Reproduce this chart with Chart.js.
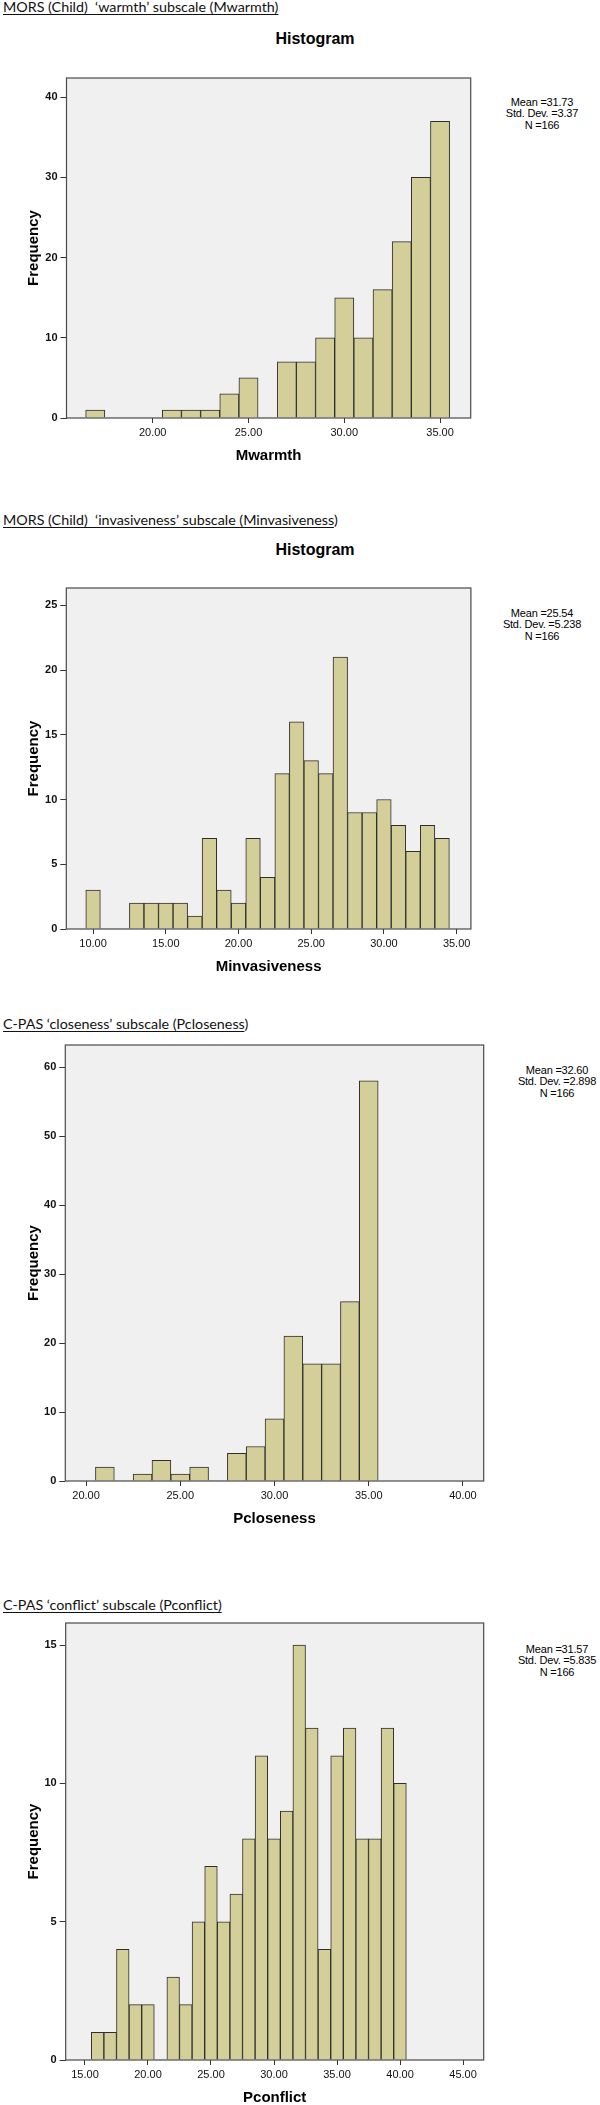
<!DOCTYPE html>
<html>
<head>
<meta charset="utf-8">
<script src="https://cdn.jsdelivr.net/npm/chart.js@4.4.1/dist/chart.umd.min.js"></script>
<style>
  body { margin: 0; background: #fff; }
  #page { position: relative; width: 600px; height: 2105px; overflow: hidden; }
  .heading { position: absolute; left: 3px; font-family: Lato, 'Open Sans', sans-serif; font-size: 14.3px; line-height: 16px; color: #111; white-space: pre; }
  .heading .u { text-decoration: underline; text-underline-offset: 2px; }
  .histTitle { position: absolute; left: 215px; width: 200px; text-align: center; font-family: 'Liberation Sans', Arial, sans-serif; font-weight: bold; font-size: 16px; line-height: 20px; color: #000; }
  .stats { position: absolute; width: 110px; text-align: center; font-family: 'Liberation Sans', Arial, sans-serif; font-size: 11px; line-height: 11.3px; color: #000; letter-spacing: -0.2px; }
  canvas { position: absolute; left: 0; }
</style>
</head>
<body>
<div id="page">
  <div class="heading" style="top:-1px"><span class="u">MORS (Child)  ‘warmth’ subscale (Mwarmth)</span></div>
  <div class="histTitle" style="top:29px">Histogram</div>
  <div class="stats" id="stats1" style="left:487px; top:97px"></div>
  <canvas id="chart1"></canvas>

  <div class="heading" style="top:512px"><span class="u">MORS (Child)  ‘invasiveness’ subscale (Minvasiveness</span>)</div>
  <div class="histTitle" style="top:540px">Histogram</div>
  <div class="stats" id="stats2" style="left:487px; top:608px"></div>
  <canvas id="chart2"></canvas>

  <div class="heading" style="top:1016px"><span class="u">C-PAS ‘closeness’ subscale (Pcloseness</span>)</div>
  <div class="stats" id="stats3" style="left:502px; top:1065px"></div>
  <canvas id="chart3"></canvas>

  <div class="heading" style="top:1597px"><span class="u">C-PAS ‘conflict’ subscale (Pconflict)</span></div>
  <div class="stats" id="stats4" style="left:502px; top:1644px"></div>
  <canvas id="chart4"></canvas>
</div>

<script>
// MORS warmth
const warmthBins = [17, 18, 19, 20, 21, 22, 23, 24, 25, 26, 27, 28, 29, 30, 31, 32, 33, 34, 35];
const warmthCounts = [1, 0, 0, 0, 1, 1, 1, 3, 5, 0, 7, 7, 10, 15, 10, 16, 22, 30, 37];
const warmthXTicks = [20, 25, 30, 35];
const warmthYTicks = [0, 10, 20, 30, 40];
const warmthStats = ['Mean =31.73', 'Std. Dev. =3.37', 'N =166'];

// MORS invasiveness
const invasBins = [10, 11, 12, 13, 14, 15, 16, 17, 18, 19, 20, 21, 22, 23, 24, 25, 26, 27, 28, 29, 30, 31, 32, 33, 34];
const invasCounts = [3, 0, 0, 2, 2, 2, 2, 1, 7, 3, 2, 7, 4, 12, 16, 13, 12, 21, 9, 9, 10, 8, 6, 8, 7];
const invasXTicks = [10, 15, 20, 25, 30, 35];
const invasYTicks = [0, 5, 10, 15, 20, 25];
const invasStats = ['Mean =25.54', 'Std. Dev. =5.238', 'N =166'];

// C-PAS closeness
const closeBins = [21, 22, 23, 24, 25, 26, 27, 28, 29, 30, 31, 32, 33, 34, 35];
const closeCounts = [2, 0, 1, 3, 1, 2, 0, 4, 5, 9, 21, 17, 17, 26, 58];
const closeXTicks = [20, 25, 30, 35, 40];
const closeYTicks = [0, 10, 20, 30, 40, 50, 60];
const closeStats = ['Mean =32.60', 'Std. Dev. =2.898', 'N =166'];

// C-PAS conflict
const conflictBins = [16, 17, 18, 19, 20, 21, 22, 23, 24, 25, 26, 27, 28, 29, 30, 31, 32, 33, 34, 35, 36, 37, 38, 39, 40];
const conflictCounts = [1, 1, 4, 2, 2, 0, 3, 2, 5, 7, 5, 6, 8, 11, 8, 9, 15, 12, 4, 11, 12, 8, 8, 12, 10];
const conflictXTicks = [15, 20, 25, 30, 35, 40, 45];
const conflictYTicks = [0, 5, 10, 15];
const conflictStats = ['Mean =31.57', 'Std. Dev. =5.835', 'N =166'];

const FONT = "'Liberation Sans', Arial, sans-serif";

// plot background + frame around the chart area
const framePlugin = {
  id: 'frame',
  beforeDatasetsDraw(chart) {
    const { ctx, chartArea: a } = chart;
    ctx.save();
    ctx.fillStyle = '#f0f0f0';
    ctx.fillRect(a.left, a.top, a.right - a.left, a.bottom - a.top);
    ctx.restore();
  },
  afterDatasetsDraw(chart) {
    const { ctx, chartArea: a } = chart;
    ctx.save();
    ctx.strokeStyle = '#4a4a4a';
    ctx.lineWidth = 1.2;
    ctx.strokeRect(a.left, a.top, a.right - a.left, a.bottom - a.top);
    ctx.restore();
  }
};

function makeHistogram(id, statsId, opts) {
  const p = opts.plot;
  const canvas = document.getElementById(id);
  const top = p.t - 10;
  const height = p.b - p.t + 62;
  canvas.width = 600;
  canvas.height = height;
  canvas.style.top = top + 'px';

  document.getElementById(statsId).innerHTML = opts.stats.join('<br>');

  return new Chart(canvas.getContext('2d'), {
    type: 'bar',
    data: {
      datasets: [{
        data: opts.bins.map((b, i) => ({ x: b, y: opts.counts[i] })),
        backgroundColor: '#d4cf98',
        borderColor: '#2e2e2e',
        borderWidth: ctx => (ctx.raw && ctx.raw.y > 0 ? 1 : 0),
        borderSkipped: 'start',
        barPercentage: 1,
        categoryPercentage: 1
      }]
    },
    options: {
      responsive: false,
      animation: false,
      devicePixelRatio: 1,
      layout: { padding: { top: 10, left: 0, right: 600 - p.r, bottom: 2 } },
      plugins: {
        legend: { display: false },
        tooltip: { enabled: false }
      },
      scales: {
        x: {
          type: 'linear',
          offset: false,
          min: opts.xMin,
          max: opts.xMax,
          afterBuildTicks: s => { s.ticks = opts.xTicks.map(v => ({ value: v })); },
          afterFit: s => { s.height = 50; },
          grid: { offset: false, drawOnChartArea: false, tickLength: 5, color: '#333' },
          border: { display: false },
          ticks: {
            autoSkip: false,
            maxRotation: 0,
            padding: 3,
            color: '#111',
            font: { family: FONT, size: 11 },
            callback: v => Number(v).toFixed(2)
          },
          title: {
            display: true,
            text: opts.xTitle,
            color: '#000',
            font: { family: FONT, size: 15, weight: 'bold' },
            padding: { top: 0, bottom: 3.5 }
          }
        },
        y: {
          min: 0,
          max: opts.yMax,
          afterBuildTicks: s => { s.ticks = opts.yTicks.map(v => ({ value: v })); },
          afterFit: s => { s.width = p.l; },
          grid: { drawOnChartArea: false, tickLength: 6, color: '#333' },
          border: { display: false },
          ticks: {
            autoSkip: false,
            padding: 3,
            color: '#111',
            font: { family: FONT, size: 11, weight: 'bold' }
          },
          title: {
            display: true,
            text: 'Frequency',
            color: '#000',
            font: { family: FONT, size: 15, weight: 'bold' },
            padding: { top: 25, bottom: 0 }
          }
        }
      }
    },
    plugins: [framePlugin]
  });
}

makeHistogram('chart1', 'stats1', {
  bins: warmthBins, counts: warmthCounts, xTicks: warmthXTicks, yTicks: warmthYTicks,
  stats: warmthStats, xTitle: 'Mwarmth', xMin: 15.5, xMax: 36.6, yMax: 42.4,
  plot: { l: 66.5, t: 78, r: 470.7, b: 418.7 }
});

makeHistogram('chart2', 'stats2', {
  bins: invasBins, counts: invasCounts, xTicks: invasXTicks, yTicks: invasYTicks,
  stats: invasStats, xTitle: 'Minvasiveness', xMin: 8.16, xMax: 35.98, yMax: 26.34,
  plot: { l: 66.3, t: 588.3, r: 470.9, b: 929.7 }
});

makeHistogram('chart3', 'stats3', {
  bins: closeBins, counts: closeCounts, xTicks: closeXTicks, yTicks: closeYTicks,
  stats: closeStats, xTitle: 'Pcloseness', xMin: 18.9, xMax: 41.1, yMax: 63.2,
  plot: { l: 65.3, t: 1044.7, r: 483.7, b: 1480.7 }
});

makeHistogram('chart4', 'stats4', {
  bins: conflictBins, counts: conflictCounts, xTicks: conflictXTicks, yTicks: conflictYTicks,
  stats: conflictStats, xTitle: 'Pconflict', xMin: 13.47, xMax: 46.64, yMax: 15.8,
  plot: { l: 65.7, t: 1622.7, r: 483.7, b: 2060 }
});
</script>
</body>
</html>
